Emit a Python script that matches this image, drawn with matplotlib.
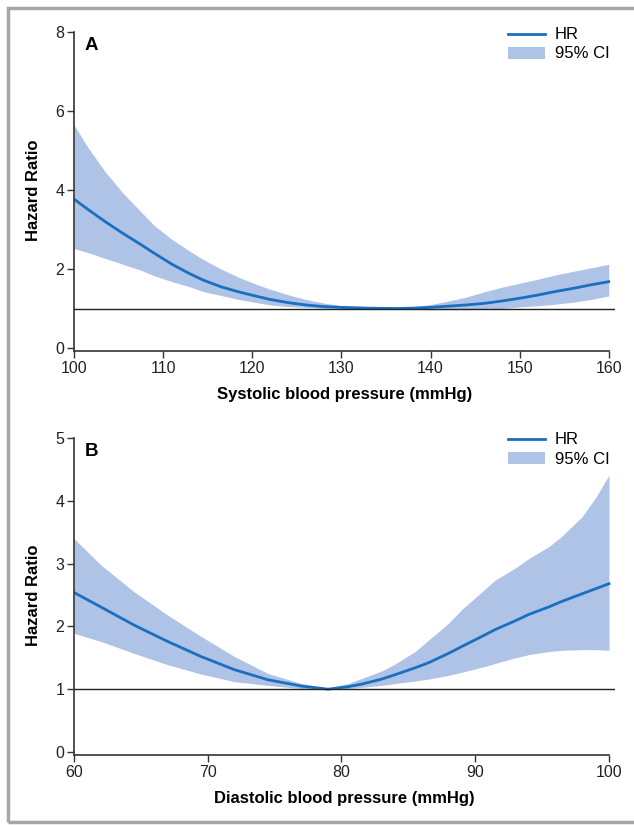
import matplotlib
matplotlib.use("Agg")
import matplotlib.pyplot as plt
from matplotlib.patches import Rectangle

plt.rcParams['font.family'] = ['Liberation Sans', 'DejaVu Sans']

# Panel A: systolic blood pressure
sbp = [100, 101.5, 103.5, 105.5, 107.5, 109, 111, 113, 114.5, 116.5, 118.5, 120.5, 122, 124, 126,
       128, 130, 133, 136, 138, 140, 142, 144, 146, 148, 150, 152, 154, 156, 158, 160]
hr_sbp = [3.77, 3.52, 3.20, 2.90, 2.62, 2.40, 2.12, 1.88, 1.72, 1.55, 1.42, 1.31, 1.23, 1.15, 1.09,
          1.05, 1.03, 1.01, 1.0, 1.01, 1.03, 1.06, 1.09, 1.13, 1.19, 1.26, 1.34, 1.43, 1.51, 1.60, 1.68]
up_sbp = [5.65, 5.10, 4.46, 3.92, 3.45, 3.10, 2.75, 2.45, 2.24, 2.00, 1.79, 1.61, 1.49, 1.35, 1.23,
          1.14, 1.07, 1.02, 1.01, 1.04, 1.10, 1.19, 1.29, 1.42, 1.54, 1.64, 1.74, 1.85, 1.94, 2.03, 2.12]
lo_sbp = [2.52, 2.42, 2.27, 2.12, 1.97, 1.83, 1.68, 1.55, 1.43, 1.33, 1.23, 1.15, 1.09, 1.05, 1.03,
          1.01, 1.0, 0.99, 0.99, 0.98, 0.97, 0.97, 0.97, 0.98, 1.0, 1.04, 1.07, 1.11, 1.16, 1.23, 1.32]

# Panel B: diastolic blood pressure
dbp = [60, 62, 64.5, 67, 69.5, 72, 74.5, 77, 79, 80.5, 81.5, 83, 84, 85.5, 86.5, 88, 89, 90.5,
       91.5, 93, 94, 95.5, 96.5, 98, 99, 100]
hr_dbp = [2.54, 2.31, 2.02, 1.76, 1.52, 1.31, 1.15, 1.05, 1.0, 1.04, 1.08, 1.16, 1.23, 1.34, 1.42,
          1.57, 1.68, 1.84, 1.95, 2.09, 2.19, 2.31, 2.40, 2.52, 2.60, 2.68]
up_dbp = [3.40, 2.98, 2.55, 2.18, 1.84, 1.52, 1.25, 1.09, 1.02, 1.09, 1.17, 1.29, 1.40, 1.60, 1.78,
          2.05, 2.27, 2.55, 2.74, 2.93, 3.08, 3.27, 3.44, 3.75, 4.05, 4.41]
lo_dbp = [1.89, 1.76, 1.57, 1.39, 1.24, 1.12, 1.06, 1.01, 1.0, 1.01, 1.03, 1.06, 1.09, 1.13, 1.16,
          1.22, 1.27, 1.35, 1.41, 1.50, 1.55, 1.60, 1.62, 1.63, 1.63, 1.62]

line_col = '#1a6fc0'
fill_col = '#aec3e6'

W, H = 634, 825
fig = plt.figure(figsize=(W / 100, H / 100), dpi=100)

# grey frame round the figure
fig.patches.append(Rectangle((8 / W, 3 / H), 1.0, 1 - 11 / H, transform=fig.transFigure,
                             fill=False, edgecolor='#a6a6a6', linewidth=2.5, clip_on=False))


def panel(rect, x, hr, lo, up, xlim, ylim, xticks, yticks, xlabel, letter, leg_top):
    ax = fig.add_axes(rect)
    ax.fill_between(x, lo, up, color=fill_col, linewidth=0, label='95% CI')
    ax.plot(x, hr, color=line_col, linewidth=2, label='HR')
    ax.axhline(1, color='#222222', linewidth=1, zorder=3)
    ax.set_xlim(*xlim)
    ax.set_ylim(*ylim)
    ax.set_xticks(xticks)
    ax.set_yticks(yticks)
    ax.spines['top'].set_visible(False)
    ax.spines['right'].set_visible(False)
    ax.spines['bottom'].set_bounds(xticks[0], xticks[-1])
    for s in ('left', 'bottom'):
        ax.spines[s].set_color('#333333')
        ax.spines[s].set_linewidth(1.2)
    ax.tick_params(direction='out', length=5, width=1, colors='#333333',
                   labelsize=11.5, labelcolor='#222222', pad=2)
    ax.set_xlabel(xlabel, fontsize=12, fontweight='bold', labelpad=8)
    ax.text(0.02, 0.985, letter, transform=ax.transAxes, fontsize=13.5,
            fontweight='bold', va='top', ha='left')
    h, l = ax.get_legend_handles_labels()
    ax.legend(h[::-1], l[::-1], loc='upper left', bbox_to_anchor=(500 / W, 1 - leg_top / H),
              bbox_transform=fig.transFigure, frameon=False, fontsize=12,
              handlelength=2.2, handletextpad=0.6, labelspacing=0.25, borderpad=0)
    return ax


axA = panel([74 / W, 1 - 351.2 / H, 541 / W, 319.2 / H], sbp, hr_sbp, lo_sbp, up_sbp,
            (100, 160.7), (-0.08, 8), [100, 110, 120, 130, 140, 150, 160], [0, 2, 4, 6, 8],
            'Systolic blood pressure (mmHg)', 'A', 19)
axB = panel([74 / W, 1 - 755 / H, 541 / W, 317 / H], dbp, hr_dbp, lo_dbp, up_dbp,
            (60, 100.45), (-0.048, 5), [60, 70, 80, 90, 100], [0, 1, 2, 3, 4, 5],
            'Diastolic blood pressure (mmHg)', 'B', 424)

fig.text(33 / W, 1 - 190 / H, 'Hazard Ratio', rotation=90, fontsize=12,
         fontweight='bold', ha='center', va='center')
fig.text(33 / W, 1 - 595 / H, 'Hazard Ratio', rotation=90, fontsize=12,
         fontweight='bold', ha='center', va='center')

fig.savefig('out.png', dpi=100)
